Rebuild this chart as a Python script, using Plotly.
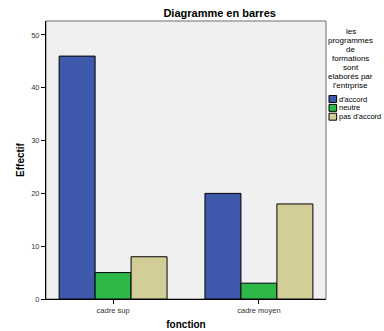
import plotly.graph_objects as go

# Effectifs par fonction et par niveau d'accord
categories = ["cadre sup", "cadre moyen"]
series_names = ["d'accord", "neutre", "pas d'accord"]
d_accord = [46, 20]
neutre = [5, 3]
pas_d_accord = [8, 18]
y_ticks = [0, 10, 20, 30, 40, 50]
legend_title_lines = ["les", "programmes", "de", "formations", "sont",
                      "elaborés par", "l'entrprise"]

colors = ["#3E58AC", "#2EB848", "#D3CE97"]
values = [d_accord, neutre, pas_d_accord]

fig = go.Figure()
for name, vals, col in zip(series_names, values, colors):
    fig.add_trace(go.Bar(
        x=categories, y=vals, name=name,
        marker=dict(color=col, line=dict(color="#000000", width=1)),
        showlegend=False,
    ))

font = "Liberation Sans, Arial, sans-serif"

fig.update_layout(
    width=384, height=331,
    margin=dict(l=46, r=58, t=21, b=32, autoexpand=False),
    paper_bgcolor="white",
    plot_bgcolor="#F0F0F0",
    barmode="group",
    bargap=0.26,
    bargroupgap=0,
    font=dict(family=font, size=8, color="#333333"),
    title=dict(text="<b>Diagramme en barres</b>", x=0.572, xanchor="center",
               y=0.96, yanchor="middle",
               font=dict(family=font, size=11, color="#000000")),
)

fig.update_xaxes(
    range=[-0.46, 1.46],
    automargin=False,
    showline=True, linecolor="#000000", linewidth=1,
    ticks="outside", ticklen=4, tickcolor="#000000",
    tickfont=dict(size=7.5, color="#333333"),
    title=dict(text="<b>fonction</b>", font=dict(family=font, size=10, color="#000000"), standoff=6),
    showgrid=False, zeroline=False,
)
fig.update_yaxes(
    range=[0, 52.65],
    automargin=False,
    tickvals=y_ticks,
    showline=True, linecolor="#000000", linewidth=1,
    ticks="outside", ticklen=4, tickcolor="#000000",
    tickfont=dict(size=7.5, color="#333333"),
    title=dict(text="<b>Effectif</b>", font=dict(family=font, size=10, color="#000000"), standoff=4),
    showgrid=False, zeroline=False,
)

# gray frame around the plotting area (top and right)
fig.add_shape(type="rect", xref="paper", yref="paper", x0=0, y0=0, x1=1, y1=1,
              line=dict(color="#6E6E6E", width=1), layer="below")

# legend block: centered title lines, then swatches
plot_h = 278.0
for i, line in enumerate(legend_title_lines):
    py = 31.3 + i * 9.0
    fig.add_annotation(
        text=line, xref="paper", yref="paper", x=1.089, y=(299 - py) / plot_h,
        xanchor="center", yanchor="middle", showarrow=False, borderpad=0,
        font=dict(family=font, size=8, color="#000000"),
    )
for i, (name, col) in enumerate(zip(series_names, colors)):
    py = 99 + i * 8.85
    yc = (299 - py) / plot_h
    fig.add_shape(type="rect", xref="paper", yref="paper",
                  x0=1.0107, x1=1.038, y0=yc - 0.0125, y1=yc + 0.0125,
                  fillcolor=col, line=dict(color="#000000", width=1))
    fig.add_annotation(text=name, xref="paper", yref="paper", x=1.043, y=yc,
                       xanchor="left", yanchor="middle", showarrow=False, borderpad=0,
                       font=dict(family=font, size=7.5, color="#000000"))

fig.write_html("out.html")
